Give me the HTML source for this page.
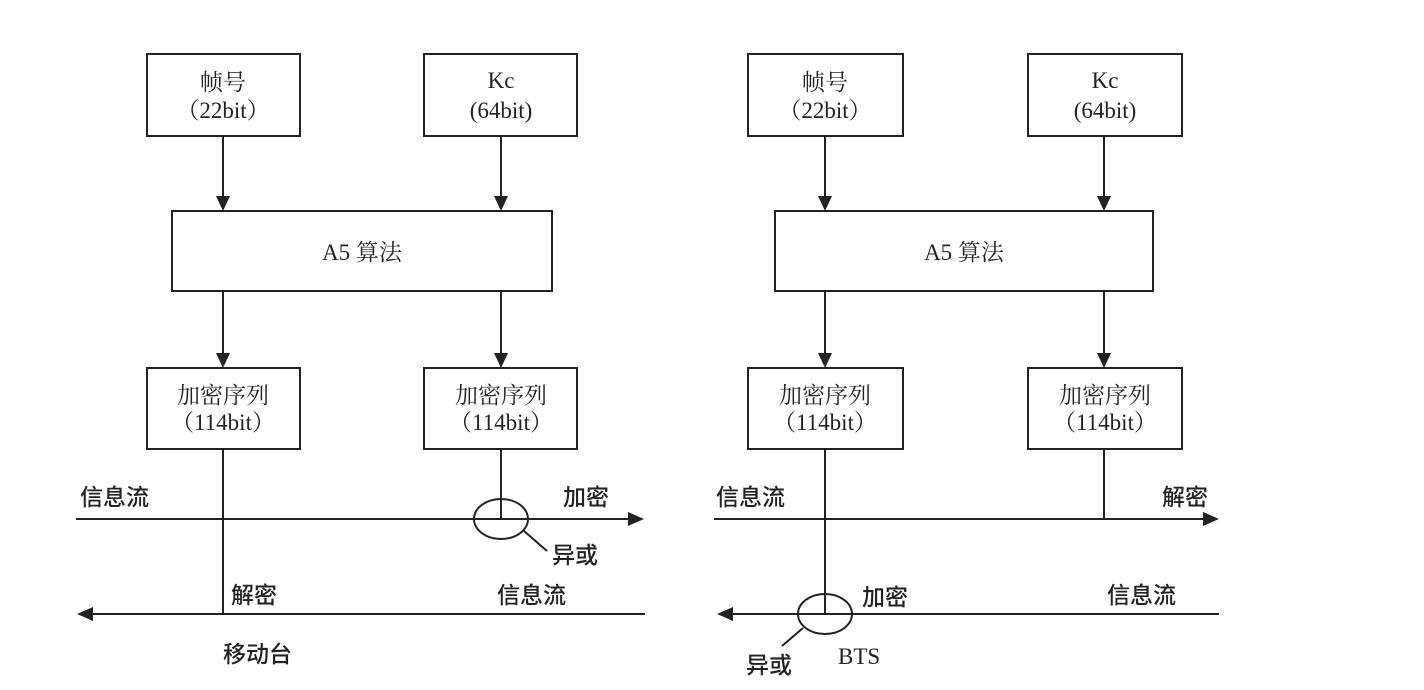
<!DOCTYPE html>
<html>
<head>
<meta charset="utf-8">
<style>
  html,body{margin:0;padding:0;background:#fff;}
  svg{display:block;}
  .bx{font-family:"Liberation Serif","Noto Serif CJK SC",serif;font-size:23px;fill:#222;}
  .lb{font-family:"Liberation Sans","Noto Sans CJK SC",sans-serif;font-size:23px;fill:#222;font-weight:500;}
  .ln{stroke:#222;stroke-width:2;fill:none;}
</style>
</head>
<body>
<svg width="1424" height="690" viewBox="0 0 1424 690" xmlns="http://www.w3.org/2000/svg">
  <rect width="1424" height="690" fill="#fff"/>

  <!-- ================= LEFT DIAGRAM ================= -->
  <rect class="ln" x="147" y="54" width="153" height="82"/>
  <text class="bx" x="223" y="90" text-anchor="middle">帧号</text>
  <text class="bx" x="223" y="118" text-anchor="middle">（22bit）</text>

  <rect class="ln" x="424" y="54" width="153" height="82"/>
  <text class="bx" x="501" y="88" text-anchor="middle">Kc</text>
  <text class="bx" x="501" y="118" text-anchor="middle">(64bit)</text>

  <line class="ln" x1="223" y1="136" x2="223" y2="200"/>
  <polygon points="216,196 230,196 223,211" fill="#222"/>
  <line class="ln" x1="501" y1="136" x2="501" y2="200"/>
  <polygon points="494,196 508,196 501,211" fill="#222"/>

  <rect class="ln" x="172" y="211" width="380" height="80"/>
  <text class="bx" x="362" y="260" text-anchor="middle">A5 算法</text>

  <line class="ln" x1="223" y1="291" x2="223" y2="357"/>
  <polygon points="216,353 230,353 223,368" fill="#222"/>
  <line class="ln" x1="501" y1="291" x2="501" y2="357"/>
  <polygon points="494,353 508,353 501,368" fill="#222"/>

  <rect class="ln" x="147" y="368" width="153" height="81"/>
  <text class="bx" x="223" y="403" text-anchor="middle">加密序列</text>
  <text class="bx" x="223" y="430" text-anchor="middle">（114bit）</text>

  <rect class="ln" x="424" y="368" width="153" height="81"/>
  <text class="bx" x="501" y="403" text-anchor="middle">加密序列</text>
  <text class="bx" x="501" y="430" text-anchor="middle">（114bit）</text>

  <!-- info flow lines -->
  <line class="ln" x1="76" y1="519" x2="630" y2="519"/>
  <polygon points="628,512 628,526 644,519" fill="#222"/>
  <line class="ln" x1="645" y1="614" x2="90" y2="614"/>
  <polygon points="93,607 93,621 77,614" fill="#222"/>

  <line class="ln" x1="223" y1="449" x2="223" y2="614"/>
  <line class="ln" x1="501" y1="449" x2="501" y2="519"/>
  <ellipse class="ln" cx="501" cy="519" rx="27" ry="20"/>
  <line class="ln" x1="524" y1="531" x2="547" y2="551"/>

  <text class="lb" x="80" y="505">信息流</text>
  <text class="lb" x="563" y="505">加密</text>
  <text class="lb" x="552" y="563">异或</text>
  <text class="lb" x="231" y="603">解密</text>
  <text class="lb" x="497" y="603">信息流</text>
  <text class="lb" x="223" y="662">移动台</text>

  <!-- ================= RIGHT DIAGRAM ================= -->
  <rect class="ln" x="748" y="54" width="155" height="82"/>
  <text class="bx" x="825" y="90" text-anchor="middle">帧号</text>
  <text class="bx" x="825" y="118" text-anchor="middle">（22bit）</text>

  <rect class="ln" x="1028" y="54" width="154" height="82"/>
  <text class="bx" x="1105" y="88" text-anchor="middle">Kc</text>
  <text class="bx" x="1105" y="118" text-anchor="middle">(64bit)</text>

  <line class="ln" x1="825" y1="136" x2="825" y2="200"/>
  <polygon points="818,196 832,196 825,211" fill="#222"/>
  <line class="ln" x1="1104" y1="136" x2="1104" y2="200"/>
  <polygon points="1097,196 1111,196 1104,211" fill="#222"/>

  <rect class="ln" x="775" y="211" width="378" height="80"/>
  <text class="bx" x="964" y="260" text-anchor="middle">A5 算法</text>

  <line class="ln" x1="825" y1="291" x2="825" y2="357"/>
  <polygon points="818,353 832,353 825,368" fill="#222"/>
  <line class="ln" x1="1104" y1="291" x2="1104" y2="357"/>
  <polygon points="1097,353 1111,353 1104,368" fill="#222"/>

  <rect class="ln" x="748" y="368" width="155" height="81"/>
  <text class="bx" x="825" y="403" text-anchor="middle">加密序列</text>
  <text class="bx" x="825" y="430" text-anchor="middle">（114bit）</text>

  <rect class="ln" x="1028" y="368" width="154" height="81"/>
  <text class="bx" x="1105" y="403" text-anchor="middle">加密序列</text>
  <text class="bx" x="1105" y="430" text-anchor="middle">（114bit）</text>

  <line class="ln" x1="714" y1="519" x2="1205" y2="519"/>
  <polygon points="1203,512 1203,526 1219,519" fill="#222"/>
  <line class="ln" x1="1219" y1="614" x2="730" y2="614"/>
  <polygon points="733,607 733,621 717,614" fill="#222"/>

  <line class="ln" x1="825" y1="449" x2="825" y2="614"/>
  <line class="ln" x1="1104" y1="449" x2="1104" y2="519"/>
  <ellipse class="ln" cx="825" cy="614" rx="27" ry="20"/>
  <line class="ln" x1="803" y1="628" x2="782" y2="646"/>

  <text class="lb" x="716" y="505">信息流</text>
  <text class="lb" x="1162" y="505">解密</text>
  <text class="lb" x="862" y="605">加密</text>
  <text class="lb" x="1107" y="603">信息流</text>
  <text class="lb" x="838" y="664" style="font-family:'Liberation Serif',serif;font-weight:normal;">BTS</text>
  <text class="lb" x="746" y="673">异或</text>
</svg>
</body>
</html>
